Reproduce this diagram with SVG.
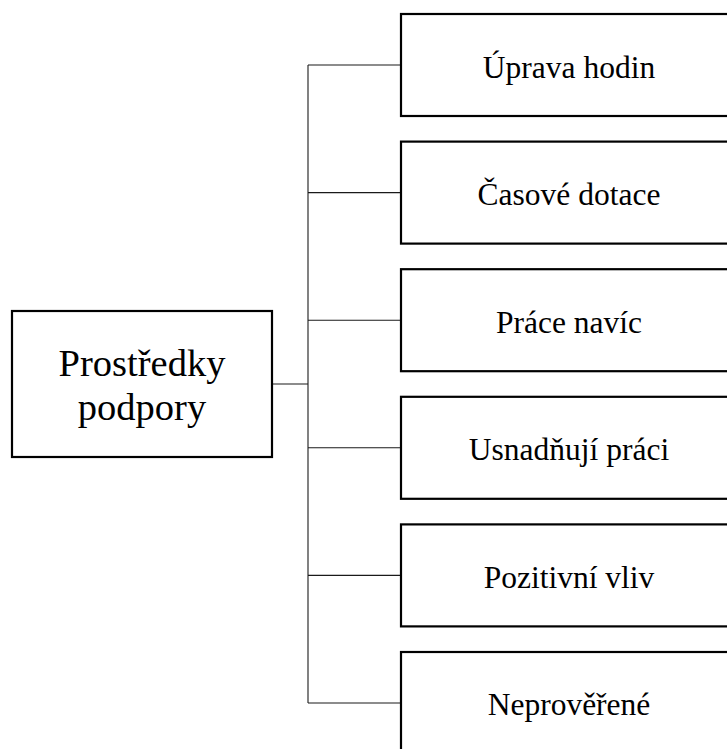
<svg xmlns="http://www.w3.org/2000/svg" width="727" height="749" viewBox="0 0 727 749">
  <style>
    .box { fill: #ffffff; stroke: #000000; stroke-width: 2.2; }
    .link { fill: none; stroke: #1a1a1a; stroke-width: 1.1; }
    .label { font-family: "Liberation Serif", "Times New Roman", serif; fill: #000000; text-anchor: middle; }
    .item { font-size: 31.5px; }
    .root { font-size: 38.5px; }
  </style>
  <rect width="727" height="749" fill="#ffffff"/>

  <!-- tree connectors -->
  <g id="connectors">
    <line class="link" x1="272" y1="384" x2="308" y2="384"/>
    <line class="link" x1="308" y1="65" x2="308" y2="703"/>
    <line class="link" x1="308" y1="65" x2="401" y2="65"/>
    <line class="link" x1="308" y1="192.6" x2="401" y2="192.6"/>
    <line class="link" x1="308" y1="320.2" x2="401" y2="320.2"/>
    <line class="link" x1="308" y1="447.8" x2="401" y2="447.8"/>
    <line class="link" x1="308" y1="575.4" x2="401" y2="575.4"/>
    <line class="link" x1="308" y1="703" x2="401" y2="703"/>
  </g>

  <g id="root">
    <rect class="box" x="12" y="311" width="260" height="146"/>
    <text class="label root" x="142" y="376">Prostředky</text>
    <text class="label root" x="142" y="420">podpory</text>
  </g>

  <g id="uprava-hodin">
    <rect class="box" x="401" y="14" width="336" height="102"/>
    <text class="label item" x="569" y="77.5">Úprava hodin</text>
  </g>

  <g id="casove-dotace">
    <rect class="box" x="401" y="141.6" width="336" height="102"/>
    <text class="label item" x="569" y="205">Časové dotace</text>
  </g>

  <g id="prace-navic">
    <rect class="box" x="401" y="269.2" width="336" height="102"/>
    <text class="label item" x="569" y="332.6">Práce navíc</text>
  </g>

  <g id="usnadnuji-praci">
    <rect class="box" x="401" y="396.8" width="336" height="102"/>
    <text class="label item" x="569" y="460.2">Usnadňují práci</text>
  </g>

  <g id="pozitivni-vliv">
    <rect class="box" x="401" y="524.4" width="336" height="102"/>
    <text class="label item" x="569" y="587.8">Pozitivní vliv</text>
  </g>

  <g id="neproverene">
    <rect class="box" x="401" y="652" width="336" height="102"/>
    <text class="label item" x="569" y="715.4">Neprověřené</text>
  </g>
</svg>
